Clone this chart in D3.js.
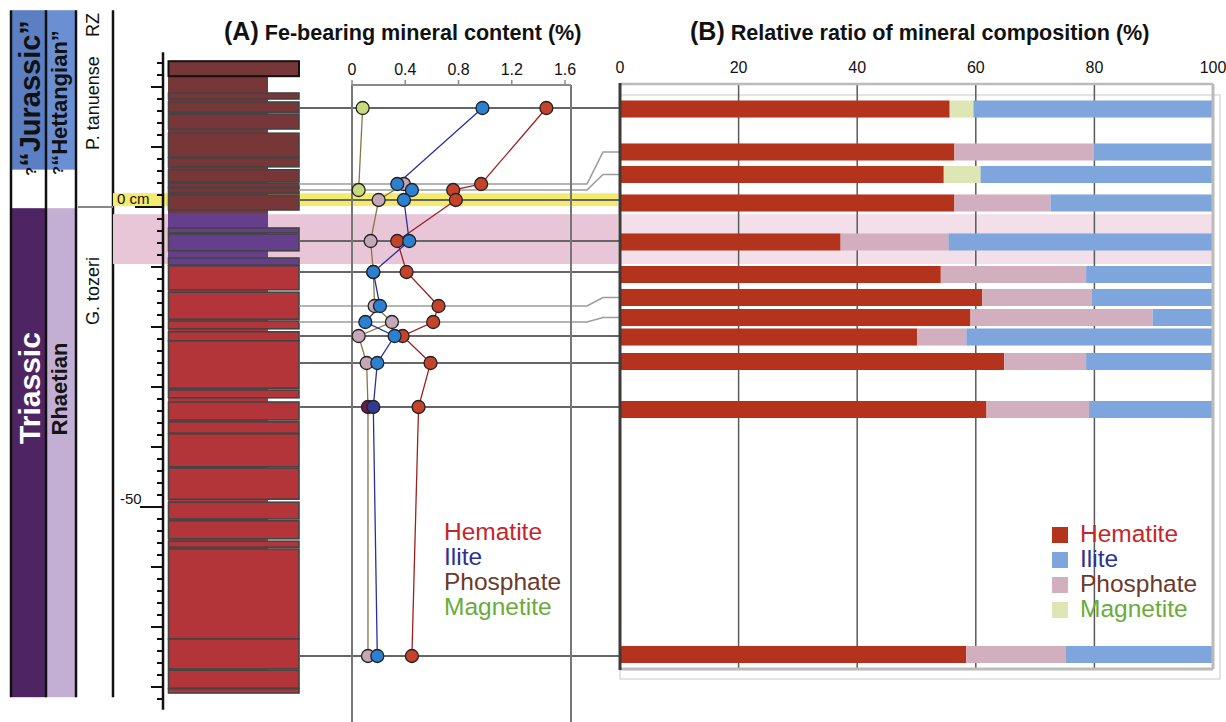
<!DOCTYPE html>
<html><head><meta charset="utf-8">
<script src="https://cdn.jsdelivr.net/npm/d3@7"></script>
<style>
body{margin:0;background:#fff}
svg{display:block;font-family:"Liberation Sans",Arial,Helvetica,sans-serif}
</style>
</head><body>
<svg id="c" width="1226" height="722"></svg>
<script>
// ---------------- DATA ----------------
// chronostratigraphy (depth in cm, top / bottom)
const systemUnits = [["Jurassic", 32.8, 6.2], ["gap", 6.2, -0.2], ["Triassic", -0.2, -81.7]];
const stageUnits  = [["Hettangian", 32.8, 6.2], ["gap", 6.2, -0.2], ["Rhaetian", -0.2, -81.7]];
const zoneLabels  = ["P. tanuense", "RZ", "G. tozeri"];
const zoneBoundary = 0;
// lithology: full-width beds [top, bottom, type]
const beds = [
  [24.3, 21.8, "brown"], [19.0, 18.0, "brown"], [17.5, 15.8, "brown"], [15.5, 13.0, "brown"],
  [12.3, 8.3, "brown"], [8.2, 6.7, "brown"], [6.2, 4.2, "brown"], [4.0, 3.3, "brown"],
  [3.2, 2.3, "brown"], [2.0, -0.5, "brown"],
  [-3.5, -4.3, "purple"], [-4.5, -7.3, "purple"], [-8.5, -9.7, "purple"],
  [-9.8, -13.8, "red"], [-14.2, -18.7, "red"], [-19.0, -20.3, "red"], [-20.8, -22.3, "red"],
  [-22.3, -30.2, "red"], [-30.5, -31.8, "red"], [-32.5, -35.5, "red"], [-35.8, -37.7, "red"],
  [-37.8, -43.3, "red"], [-43.5, -48.7, "red"], [-49.2, -52.0, "red"], [-52.3, -55.3, "red"],
  [-55.7, -56.7, "red"], [-57.0, -72.0, "red"], [-72.0, -77.0, "red"], [-77.2, -80.2, "red"],
  [-80.3, -81.0, "red"]
];
// lithology: narrow (weathering profile) background [top, bottom, type]
const lithoBackground = [[24.3, -1.0, "brown"], [-1.0, -9.7, "purple"], [-9.7, -81.0, "red"]];
const markerBand = [2.3, 0.15];     // "0 cm" level
const pinkInterval = [-1.2, -9.5];
// depth axis
const depthMinorTicks = d3.range(24, -83, -2);
const depthMediumTicks = [20, 10, -10, -20, -30, -40, -60, -70, -80];
const depthLabels = [[0, "0 cm"], [-50, "-50"]];
// samples
const sampleDepth = [16.5, 3.83, 2.83, 1.17, -5.67, -10.83, -16.5, -19.17, -21.5, -26.0, -33.33, -74.83];
const barDepth    = [16.33, 9.17, 5.42, 0.67, -5.83, -11.25, -15.08, -18.42, -21.67, -25.75, -33.75, -74.58];
const routedSamples = [1, 2, 6, 7];
// (A) Fe-bearing mineral content (%)
const hematiteA  = [1.46, 0.97, 0.76, 0.78, 0.34, 0.41, 0.65, 0.61, 0.38, 0.59, 0.50, 0.45];
const illiteA    = [0.98, 0.34, 0.45, 0.39, 0.43, 0.16, 0.21, 0.10, 0.32, 0.19, 0.16, 0.19];
const phosphateA = [null, 0.39, null, 0.20, 0.14, 0.16, 0.17, 0.30, 0.05, 0.11, 0.12, 0.12];
const magnetiteA = [0.08, null, 0.05, null, null, null, null, null, null, null, null, null];
const ticksA = [0, 0.4, 0.8, 1.2, 1.6];
// (B) Relative ratio of mineral composition (%)
const hematiteB  = [55.6, 56.4, 54.6, 56.4, 37.2, 54.1, 61.1, 59.1, 50.1, 64.8, 61.8, 58.4];
const magnetiteB = [4.0, 0, 6.2, 0, 0, 0, 0, 0, 0, 0, 0, 0];
const phosphateB = [0, 23.5, 0, 16.2, 18.2, 24.5, 18.5, 30.7, 8.3, 13.8, 17.3, 16.8];
const illiteB    = [40.4, 20.1, 39.2, 27.4, 44.6, 21.4, 20.4, 10.2, 41.6, 21.4, 20.9, 24.8];
const ticksB = [0, 20, 40, 60, 80, 100];
const minerals = ["Hematite", "Ilite", "Phosphate", "Magnetite"];

// ---------------- DRAWING ----------------
const svg = d3.select("#c");
const y = d3.scaleLinear().domain([0, -50]).range([207, 507]);
const xA = d3.scaleLinear().domain([0, 1.6]).range([352, 565]);
const xB = d3.scaleLinear().domain([0, 100]).range([620, 1213]);

const lithFill = {brown: "#773637", purple: "#653e8c", red: "#b3353a"};
const sysFill = {Jurassic: "#5b7fc2", gap: "#ffffff", Triassic: "#4e2463"};
const stgFill = {Hettangian: "#6a8fd2", gap: "#ffffff", Rhaetian: "#c3afd3"};

// strat columns
const gStrat = svg.append("g");
gStrat.selectAll("rect.sys").data(systemUnits).join("rect")
  .attr("x", 12).attr("width", 34)
  .attr("y", d => y(d[1])).attr("height", d => y(d[2]) - y(d[1]))
  .attr("fill", d => sysFill[d[0]]);
gStrat.selectAll("rect.stg").data(stageUnits).join("rect")
  .attr("x", 46).attr("width", 30)
  .attr("y", d => y(d[1])).attr("height", d => y(d[2]) - y(d[1]))
  .attr("fill", d => stgFill[d[0]]);
[11, 46, 76, 113].forEach(x => {
  gStrat.append("line").attr("x1", x).attr("x2", x)
    .attr("y1", y(32.8)).attr("y2", y(-81.7))
    .attr("stroke", "#111").attr("stroke-width", 2.5);
});
gStrat.append("line").attr("x1", 78).attr("x2", 113)
  .attr("y1", y(zoneBoundary)).attr("y2", y(zoneBoundary))
  .attr("stroke", "#888").attr("stroke-width", 2);

function vtext(x, yy, anchor) {
  return svg.append("text").attr("transform", `translate(${x},${yy}) rotate(-90)`)
    .attr("text-anchor", anchor);
}
let t = vtext(40, 176, "start").attr("font-weight", "bold").attr("fill", "#111");
t.append("tspan").attr("font-size", 15).attr("dy", -4).text("?");
t.append("tspan").attr("font-size", 29).attr("dy", 4).text("\u201CJurassic\u201D");
t = vtext(67, 175, "start").attr("font-weight", "bold").attr("fill", "#111");
t.append("tspan").attr("font-size", 15).attr("dy", -4).text("?");
t.append("tspan").attr("font-size", 22).attr("dy", 4).text("\u201CHettangian\u201D");
vtext(40, 388, "middle").attr("font-weight", "bold").attr("font-size", 30).attr("fill", "#fff").text("Triassic");
vtext(67, 389, "middle").attr("font-weight", "bold").attr("font-size", 22).attr("fill", "#151515").text("Rhaetian");
vtext(99, 150, "start").attr("font-size", 18).attr("fill", "#111").text(zoneLabels[0]);
vtext(99, 13, "end").attr("font-size", 18).attr("fill", "#111").text(zoneLabels[1]);
vtext(99, 325, "start").attr("font-size", 18).attr("fill", "#111").text(zoneLabels[2]);

// bands
svg.append("rect").attr("x", 113).attr("width", 505)
  .attr("y", y(markerBand[0])).attr("height", y(markerBand[1]) - y(markerBand[0]))
  .attr("fill", "#f4ea6c");
svg.append("rect").attr("x", 113).attr("width", 505)
  .attr("y", y(pinkInterval[0])).attr("height", y(pinkInterval[1]) - y(pinkInterval[0]))
  .attr("fill", "#e8c6d7");
svg.append("rect").attr("x", xB(0)).attr("width", xB(100) - xB(0))
  .attr("y", y(pinkInterval[0])).attr("height", y(pinkInterval[1]) - y(pinkInterval[0]))
  .attr("fill", "#f2dfe9");

// lithology
svg.append("g").selectAll("rect").data(lithoBackground).join("rect")
  .attr("x", 168).attr("width", 100)
  .attr("y", d => y(d[0])).attr("height", d => y(d[1]) - y(d[0]))
  .attr("fill", d => lithFill[d[2]]);
svg.append("g").selectAll("rect").data(beds).join("rect")
  .attr("x", 168.5).attr("width", 130.5)
  .attr("y", d => y(d[0])).attr("height", d => y(d[1]) - y(d[0]))
  .attr("fill", d => lithFill[d[2]])
  .attr("stroke", (d, i) => i === 0 ? "#111" : "#444").attr("stroke-width", (d, i) => i === 0 ? 2 : 1.6);

// depth axis
const gD = svg.append("g");
gD.append("line").attr("x1", 163).attr("x2", 163).attr("y1", y(25.8)).attr("y2", y(-83.8))
  .attr("stroke", "#111").attr("stroke-width", 2.5);
gD.selectAll("line.mi").data(depthMinorTicks).join("line")
  .attr("x1", 157).attr("x2", 163).attr("y1", d => y(d)).attr("y2", d => y(d))
  .attr("stroke", "#111").attr("stroke-width", 2);
gD.selectAll("line.me").data(depthMediumTicks).join("line")
  .attr("x1", 151).attr("x2", 163).attr("y1", d => y(d)).attr("y2", d => y(d))
  .attr("stroke", "#111").attr("stroke-width", 2);
gD.selectAll("line.ma").data(depthLabels).join("line")
  .attr("x1", d => d[0] === 0 ? 135 : 140).attr("x2", 163).attr("y1", d => y(d[0])).attr("y2", d => y(d[0]))
  .attr("stroke", "#111").attr("stroke-width", 2);
gD.selectAll("text").data(depthLabels).join("text")
  .attr("x", d => d[0] === 0 ? 117 : 120).attr("y", d => y(d[0]) - 3)
  .attr("font-size", 15).attr("fill", "#111").text(d => d[1]);

// connectors
const gC = svg.append("g").attr("fill", "none");
sampleDepth.forEach((d, i) => {
  const routed = routedSamples.includes(i);
  const pts = routed
    ? [[299, y(d)], [587, y(d)], [603, y(barDepth[i])], [620, y(barDepth[i])]]
    : [[299, y(d)], [620, y(d)]];
  gC.append("path").attr("d", d3.line()(pts))
    .attr("stroke", routed ? "#9c9c9c" : "#666").attr("stroke-width", routed ? 1.6 : 2.2);
});

// chart A frame
const gA = svg.append("g");
[352, 571].forEach(x => gA.append("line").attr("x1", x).attr("x2", x).attr("y1", 85).attr("y2", 722)
  .attr("stroke", "#777").attr("stroke-width", 2));
gA.append("line").attr("x1", 352).attr("x2", 571).attr("y1", 85).attr("y2", 85)
  .attr("stroke", "#8a8a8a").attr("stroke-width", 2);
gA.selectAll("line.tk").data(ticksA).join("line")
  .attr("x1", d => xA(d)).attr("x2", d => xA(d)).attr("y1", 80).attr("y2", 85)
  .attr("stroke", "#8a8a8a").attr("stroke-width", 1.5);
gA.selectAll("text").data(ticksA).join("text")
  .attr("x", d => xA(d)).attr("y", 75).attr("text-anchor", "middle")
  .attr("font-size", 16).attr("fill", "#111").text(d => d === 0 ? "0" : d3.format(".1f")(d));

// chart A series
const seriesA = [
  {name: "hematite", vals: hematiteA, line: "#9e1f1f", fill: "#c6432b"},
  {name: "magnetite", vals: magnetiteA, line: "#8a7545", fill: "#c9da7c"},
  {name: "phosphate", vals: phosphateA, line: "#8a7545", fill: "#c6a7b8"},
  {name: "illite", vals: illiteA, line: "#2b2f9c", fill: "#2b80d2"}
];
const accentFill = {phosphate: "#6d1d45", illite: "#2f3a90"};
const accentSample = 10;
seriesA.forEach(s => {
  const pts = s.vals.map((v, i) => v == null ? null : [xA(v), y(sampleDepth[i])]).filter(p => p);
  gA.append("path").attr("d", d3.line()(pts)).attr("fill", "none")
    .attr("stroke", s.line).attr("stroke-width", 1.3);
});
seriesA.forEach(s => {
  s.vals.forEach((v, i) => {
    if (v == null) return;
    gA.append("circle").attr("cx", xA(v)).attr("cy", y(sampleDepth[i])).attr("r", 6.5)
      .attr("fill", i === accentSample && accentFill[s.name] ? accentFill[s.name] : s.fill)
      .attr("stroke", "#222").attr("stroke-width", 1.3);
  });
});
const legColA = ["#c4262c", "#2e3192", "#6b3a2b", "#6aab3b"];
gA.selectAll("text.leg").data(minerals).join("text")
  .attr("x", 444).attr("y", (d, i) => 540 + i * 25)
  .attr("font-size", 24.5).attr("fill", (d, i) => legColA[i]).text(d => d);

// chart B
const gB = svg.append("g");
gB.append("rect").attr("x", 620).attr("y", 95).attr("width", 600).attr("height", 584)
  .attr("fill", "none").attr("stroke", "#dcdcdc").attr("stroke-width", 1.5);
gB.selectAll("line.grid").data(ticksB.slice(1, -1)).join("line")
  .attr("x1", d => xB(d)).attr("x2", d => xB(d)).attr("y1", 84).attr("y2", 668)
  .attr("stroke", "#5a5a5a").attr("stroke-width", 1.5);
const rowsB = barDepth.map((d, i) => ({depth: d, hematite: hematiteB[i], magnetite: magnetiteB[i], phosphate: phosphateB[i], illite: illiteB[i]}));
const keysB = ["hematite", "magnetite", "phosphate", "illite"];
const colB = {hematite: "#b3331c", magnetite: "#dde6b4", phosphate: "#d1afbf", illite: "#7ea6dc"};
const stackB = d3.stack().keys(keysB)(rowsB);
const halfBar = 1.42;
gB.selectAll("g.s").data(stackB).join("g").attr("fill", d => colB[d.key])
  .selectAll("rect").data(d => d).join("rect")
  .attr("x", d => xB(d[0])).attr("width", d => xB(d[1]) - xB(d[0]))
  .attr("y", d => y(d.data.depth + halfBar)).attr("height", d => y(d.data.depth - halfBar) - y(d.data.depth + halfBar));
gB.append("line").attr("x1", 620).attr("x2", 1213).attr("y1", 84).attr("y2", 84)
  .attr("stroke", "#bbb").attr("stroke-width", 2.5);
gB.append("line").attr("x1", 1213).attr("x2", 1213).attr("y1", 84).attr("y2", 669)
  .attr("stroke", "#bbb").attr("stroke-width", 3);
gB.append("line").attr("x1", 620).attr("x2", 1213).attr("y1", 669).attr("y2", 669)
  .attr("stroke", "#bbb").attr("stroke-width", 3);
gB.append("line").attr("x1", 620).attr("x2", 620).attr("y1", 83).attr("y2", 670)
  .attr("stroke", "#3d3a38").attr("stroke-width", 3);
gB.selectAll("text.tk").data(ticksB).join("text")
  .attr("x", d => xB(d)).attr("y", 73).attr("text-anchor", "middle")
  .attr("font-size", 16).attr("fill", "#111").text(d => d);
const legOrderB = ["hematite", "illite", "phosphate", "magnetite"];
gB.selectAll("rect.leg").data(legOrderB).join("rect")
  .attr("x", 1052).attr("y", (d, i) => 527 + i * 25).attr("width", 16).attr("height", 16)
  .attr("fill", d => colB[d]);
gB.selectAll("text.leg").data(minerals).join("text")
  .attr("x", 1080).attr("y", (d, i) => 542 + i * 25)
  .attr("font-size", 24.5).attr("fill", (d, i) => legColA[i]).text(d => d);

// titles
function title(x, tag, rest) {
  const tt = svg.append("text").attr("x", x).attr("y", 40).attr("font-weight", "bold").attr("fill", "#111");
  tt.append("tspan").attr("font-size", 25).text(tag);
  tt.append("tspan").attr("font-size", 21.6).text(" " + rest);
}
title(224, "(A)", "Fe-bearing mineral content (%)");
title(690, "(B)", "Relative ratio of mineral composition (%)");
</script>
</body></html>
